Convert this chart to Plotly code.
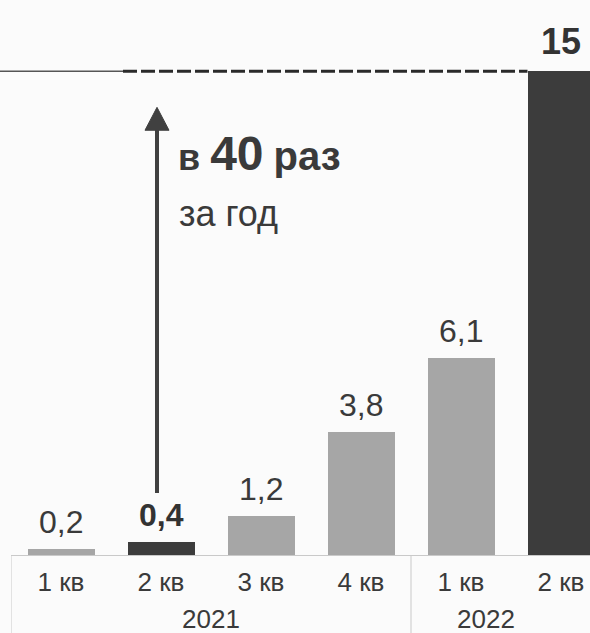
import plotly.graph_objects as go

# ---- data ----
quarters = ["1 кв", "2 кв", "3 кв", "4 кв", "1 кв", "2 кв"]
years = ["2021", "2022"]
year_groups = [[0, 1, 2, 3], [4, 5]]
values = [0.2, 0.4, 1.2, 3.8, 6.1, 15]
value_labels = ["0,2", "0,4", "1,2", "3,8", "6,1", "15"]
bold_label = [False, True, False, False, False, True]
highlight = [False, True, False, False, False, True]
growth_main = ["в", "40", "раз"]
growth_sub = "за год"

# ---- styles ----
FONT = "Liberation Sans, Arial, sans-serif"
TXT = "#3a3a3a"
LIGHT = "#a6a6a6"
DARK = "#3c3c3c"
GRID = "#c9c9c9"
ARROW = "#404040"

xs = list(range(len(values)))
colors = [DARK if h else LIGHT for h in highlight]

fig = go.Figure()
fig.add_trace(go.Bar(
    x=xs, y=values, marker=dict(color=colors, line=dict(width=0)),
    width=0.67, hoverinfo="skip", showlegend=False,
))

annotations = []
for i, (v, lab, b) in enumerate(zip(values, value_labels, bold_label)):
    annotations.append(dict(
        x=i, y=v, xref="x", yref="y", text=f"<b>{lab}</b>" if b else lab,
        showarrow=False, yanchor="bottom", yshift=7,
        font=dict(size=36 if i == 5 else 32, color="#333333" if b else TXT, family=FONT),
    ))

# year labels
year_x = [sum(g) / len(g) for g in year_groups]
year_x[1] = 4.25
for yx, yl in zip(year_x, years):
    annotations.append(dict(
        x=yx, y=-0.131, xref="x", yref="paper", text=yl, showarrow=False,
        yanchor="middle", font=dict(size=26, color=TXT, family=FONT),
    ))

# growth label
annotations.append(dict(
    x=1.15, y=12.45, xref="x", yref="y", xanchor="left", yanchor="middle",
    text=(f"<b>{growth_main[0]} <span style='font-size:48px'>{growth_main[1]}</span> "
          f"<span style='font-size:40px'>{growth_main[2]}</span></b>"),
    showarrow=False, font=dict(size=36, color=TXT, family=FONT),
))
annotations.append(dict(
    x=1.16, y=10.6, xref="x", yref="y", xanchor="left", yanchor="middle",
    text=growth_sub, showarrow=False, font=dict(size=36, color=TXT, family=FONT),
))

# arrow geometry (data units)
ax_x, ay0, ay1, head_base, head_hw = 0.96, 1.92, 13.88, 13.17, 0.12

shapes = [
    # table lines below axis
    dict(type="line", xref="x", yref="paper", x0=-0.5, x1=-0.5, y0=0, y1=-0.17,
         line=dict(color=GRID, width=1)),
    dict(type="line", xref="x", yref="paper", x0=3.5, x1=3.5, y0=0, y1=-0.17,
         line=dict(color=GRID, width=1)),
    # top reference line
    dict(type="line", xref="paper", yref="y", x0=-0.02, x1=0.195, y0=15, y1=15,
         line=dict(color="#555555", width=1.5)),
    dict(type="line", xref="x", yref="y", x0=0.62, x1=5 - 0.335, y0=15, y1=15,
         line=dict(color="#2a2a2a", width=3, dash="14px,4px")),
    # growth arrow
    dict(type="line", xref="x", yref="y", x0=ax_x, x1=ax_x, y0=ay0, y1=head_base + 0.1,
         line=dict(color=ARROW, width=4)),
    dict(type="path", xref="x", yref="y",
         path=f"M {ax_x - head_hw} {head_base} L {ax_x + head_hw} {head_base} L {ax_x} {ay1} Z",
         fillcolor=ARROW, line=dict(color=ARROW, width=1)),
]

fig.update_layout(
    width=590, height=633,
    margin=dict(l=11, r=0, t=68, b=78),
    paper_bgcolor="#fbfbfb", plot_bgcolor="#fbfbfb",
    bargap=0, showlegend=False,
    xaxis=dict(
        range=[-0.5, 5.29], tickvals=xs, ticktext=quarters, ticks="",
        showline=True, linecolor=GRID, linewidth=1, showgrid=False, zeroline=False,
        tickfont=dict(size=26, color=TXT, family=FONT), ticklabelstandoff=4,
        fixedrange=True,
    ),
    yaxis=dict(range=[0, 15.1], visible=False, fixedrange=True),
    annotations=annotations, shapes=shapes,
    font=dict(family=FONT, color=TXT),
)

fig.write_html(
    "out.html", config={"displayModeBar": False},
    post_script="document.body.style.margin='0';document.body.style.overflow='hidden';",
)
